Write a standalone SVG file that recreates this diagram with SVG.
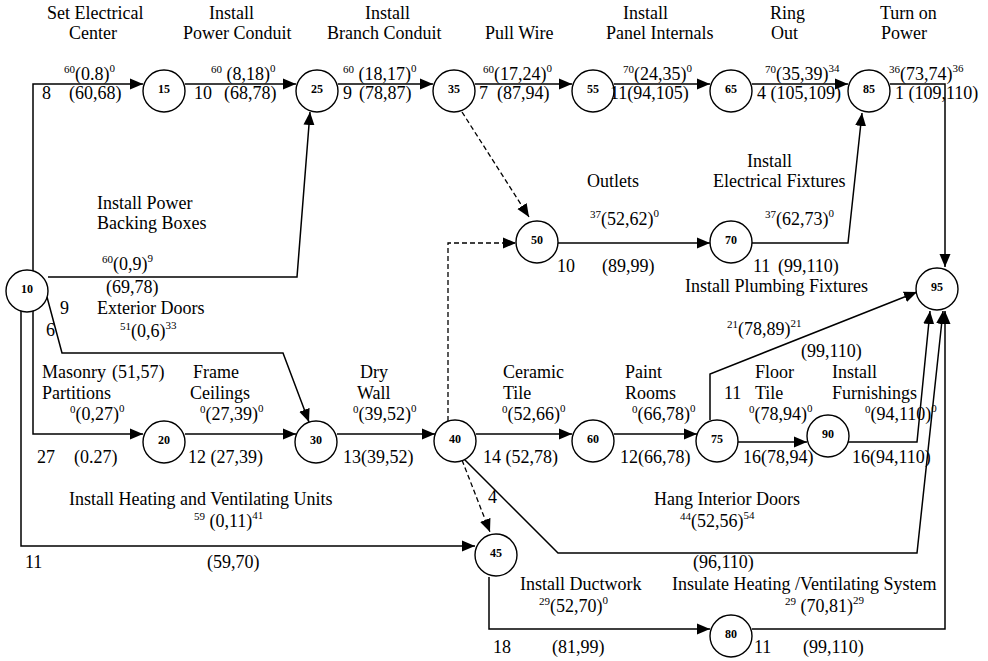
<svg xmlns="http://www.w3.org/2000/svg" width="988" height="661" viewBox="0 0 988 661">
<style>
.bg{fill:#fff}
.e{fill:none;stroke:#000;stroke-width:1.5}
.d{fill:none;stroke:#000;stroke-width:1.3;stroke-dasharray:5 3}
.nc{fill:#fff;stroke:#000;stroke-width:1.4}
.nt{font-family:'Liberation Serif','Times New Roman',serif;font-size:12px;font-weight:bold;text-anchor:middle;fill:#000}
.lb text{font-family:'Liberation Serif','Times New Roman',serif;font-size:18px;fill:#000}
.lb .s{font-size:11px}
</style>
<defs>
<marker id="ah" markerWidth="13" markerHeight="12" refX="13" refY="6" orient="auto" markerUnits="userSpaceOnUse"><path d="M0,0.5 L13,6 L0,11.5 z" fill="#000"/></marker>
</defs>
<rect class="bg" x="0" y="0" width="988" height="661"/>
<g id="connectors">
<path class="e" d="M33,271 V84 H143" marker-end="url(#ah)"/>
<path class="e" d="M185,84 H296" marker-end="url(#ah)"/>
<path class="e" d="M338,84 H433" marker-end="url(#ah)"/>
<path class="e" d="M475,84 H572" marker-end="url(#ah)"/>
<path class="e" d="M614,84 H710" marker-end="url(#ah)"/>
<path class="e" d="M752,84 H848" marker-end="url(#ah)"/>
<path class="e" d="M890,84 H945 V267" marker-end="url(#ah)"/>
<path class="e" d="M48,277 H297 L310,112" marker-end="url(#ah)"/>
<path class="e" d="M47,297 L62,353 H283 L309,422" marker-end="url(#ah)"/>
<path class="e" d="M33,311 V434 H143" marker-end="url(#ah)"/>
<path class="e" d="M21,311 V546 H475" marker-end="url(#ah)"/>
<path class="e" d="M185,434 H296" marker-end="url(#ah)"/>
<path class="e" d="M337,434 H435" marker-end="url(#ah)"/>
<path class="e" d="M476,434 H572" marker-end="url(#ah)"/>
<path class="e" d="M614,434 H697" marker-end="url(#ah)"/>
<path class="e" d="M738,442 H807" marker-end="url(#ah)"/>
<path class="e" d="M848,442 H917 L930,311" marker-end="url(#ah)"/>
<path class="e" d="M710,420 V374 L917,292" marker-end="url(#ah)"/>
<path class="e" d="M463,458 L558,553 H917 L943,311" marker-end="url(#ah)"/>
<path class="d" d="M462,460 L490,532" marker-end="url(#ah)"/>
<path class="d" d="M448,421 V243 H516" marker-end="url(#ah)"/>
<path class="d" d="M462,112 L529,217" marker-end="url(#ah)"/>
<path class="e" d="M558,243 H710" marker-end="url(#ah)"/>
<path class="e" d="M752,243 H848 L862,113" marker-end="url(#ah)"/>
<path class="e" d="M489,577 V629 H710" marker-end="url(#ah)"/>
<path class="e" d="M752,629 H945 V311" marker-end="url(#ah)"/>
</g>
<g id="n10"><circle class="nc" cx="27" cy="291" r="21"/><text class="nt" x="27" y="293">10</text></g>
<g id="n15"><circle class="nc" cx="164" cy="91" r="21"/><text class="nt" x="164" y="93">15</text></g>
<g id="n25"><circle class="nc" cx="317" cy="91" r="21"/><text class="nt" x="317" y="93">25</text></g>
<g id="n35"><circle class="nc" cx="454" cy="91" r="21"/><text class="nt" x="454" y="93">35</text></g>
<g id="n55"><circle class="nc" cx="593" cy="91" r="21"/><text class="nt" x="593" y="93">55</text></g>
<g id="n65"><circle class="nc" cx="731" cy="91" r="21"/><text class="nt" x="731" y="93">65</text></g>
<g id="n85"><circle class="nc" cx="869" cy="91" r="21"/><text class="nt" x="869" y="93">85</text></g>
<g id="n50"><circle class="nc" cx="537" cy="242" r="21"/><text class="nt" x="537" y="244">50</text></g>
<g id="n70"><circle class="nc" cx="731" cy="242" r="21"/><text class="nt" x="731" y="244">70</text></g>
<g id="n95"><circle class="nc" cx="937" cy="289" r="21"/><text class="nt" x="937" y="291">95</text></g>
<g id="n20"><circle class="nc" cx="164" cy="442" r="21"/><text class="nt" x="164" y="444">20</text></g>
<g id="n30"><circle class="nc" cx="316" cy="442" r="21"/><text class="nt" x="316" y="444">30</text></g>
<g id="n40"><circle class="nc" cx="455" cy="441" r="21"/><text class="nt" x="455" y="443">40</text></g>
<g id="n60"><circle class="nc" cx="593" cy="441" r="21"/><text class="nt" x="593" y="443">60</text></g>
<g id="n75"><circle class="nc" cx="717" cy="441" r="21"/><text class="nt" x="717" y="443">75</text></g>
<g id="n90"><circle class="nc" cx="828" cy="436" r="21"/><text class="nt" x="828" y="438">90</text></g>
<g id="n45"><circle class="nc" cx="496" cy="555" r="21"/><text class="nt" x="496" y="557">45</text></g>
<g id="n80"><circle class="nc" cx="731" cy="636" r="21"/><text class="nt" x="731" y="638">80</text></g>
<g id="labels" class="lb" font-family="'Liberation Serif', serif">
<text x="47" y="19">Set Electrical</text><text x="69" y="39">Center</text>
<text x="209" y="19">Install</text><text x="183" y="39">Power Conduit</text>
<text x="365" y="19">Install</text><text x="327" y="39">Branch Conduit</text>
<text x="485" y="39">Pull Wire</text>
<text x="623" y="19">Install</text><text x="606" y="39">Panel Internals</text>
<text x="770" y="19">Ring</text><text x="771" y="39">Out</text>
<text x="880" y="19">Turn on</text><text x="881" y="39">Power</text>

<text x="64" y="80"><tspan class="s" dy="-7">60</tspan><tspan dy="7">(0.8)</tspan><tspan class="s" dy="-8">0</tspan></text>
<text x="42" y="99">8</text><text x="69" y="99">(60,68)</text>
<text x="211" y="80"><tspan class="s" dy="-7">60</tspan><tspan dy="7"> (8,18)</tspan><tspan class="s" dy="-8">0</tspan></text>
<text x="194" y="99">10</text><text x="224" y="99">(68,78)</text>
<text x="343" y="80"><tspan class="s" dy="-7">60</tspan><tspan dy="7"> (18,17)</tspan><tspan class="s" dy="-8">0</tspan></text>
<text x="343" y="99">9</text><text x="359" y="99">(78,87)</text>
<text x="483" y="80"><tspan class="s" dy="-7">60</tspan><tspan dy="7">(17,24)</tspan><tspan class="s" dy="-8">0</tspan></text>
<text x="479" y="99">7</text><text x="497" y="99">(87,94)</text>
<text x="623" y="80"><tspan class="s" dy="-7">70</tspan><tspan dy="7">(24,35)</tspan><tspan class="s" dy="-8">0</tspan></text>
<text x="610" y="99">11(94,105)</text>
<text x="765" y="80"><tspan class="s" dy="-7">70</tspan><tspan dy="7">(35,39)</tspan><tspan class="s" dy="-8">34</tspan></text>
<text x="757" y="99">4 (105,109)</text>
<text x="889" y="80"><tspan class="s" dy="-7">36</tspan><tspan dy="7">(73,74)</tspan><tspan class="s" dy="-8">36</tspan></text>
<text x="895" y="99">1 (109,110)</text>

<text x="97" y="209">Install Power</text><text x="97" y="229">Backing Boxes</text>
<text x="102" y="270"><tspan class="s" dy="-7">60</tspan><tspan dy="7">(0,9)</tspan><tspan class="s" dy="-8">9</tspan></text>
<text x="106" y="293">(69,78)</text>
<text x="60" y="314">9</text><text x="97" y="314">Exterior Doors</text>
<text x="46" y="336">6</text>
<text x="120" y="337"><tspan class="s" dy="-7">51</tspan><tspan dy="7">(0,6)</tspan><tspan class="s" dy="-8">33</tspan></text>

<text x="587" y="187">Outlets</text>
<text x="747" y="167">Install</text><text x="713" y="187">Electrical Fixtures</text>
<text x="590" y="225"><tspan class="s" dy="-7">37</tspan><tspan dy="7">(52,62)</tspan><tspan class="s" dy="-8">0</tspan></text>
<text x="765" y="225"><tspan class="s" dy="-7">37</tspan><tspan dy="7">(62,73)</tspan><tspan class="s" dy="-8">0</tspan></text>
<text x="557" y="272">10</text><text x="602" y="272">(89,99)</text>
<text x="753" y="272">11</text><text x="778" y="272">(99,110)</text>
<text x="685" y="292">Install Plumbing Fixtures</text>
<text x="727" y="335"><tspan class="s" dy="-7">21</tspan><tspan dy="7">(78,89)</tspan><tspan class="s" dy="-8">21</tspan></text>
<text x="801" y="357">(99,110)</text>

<text x="42" y="378">Masonry</text><text x="112" y="378">(51,57)</text><text x="193" y="378">Frame</text>
<text x="42" y="399">Partitions</text><text x="190" y="399">Ceilings</text>
<text x="70" y="420"><tspan class="s" dy="-7">0</tspan><tspan dy="7">(0,27)</tspan><tspan class="s" dy="-8">0</tspan></text>
<text x="200" y="420"><tspan class="s" dy="-7">0</tspan><tspan dy="7">(27,39)</tspan><tspan class="s" dy="-8">0</tspan></text>
<text x="360" y="378">Dry</text><text x="357" y="399">Wall</text>
<text x="353" y="420"><tspan class="s" dy="-7">0</tspan><tspan dy="7">(39,52)</tspan><tspan class="s" dy="-8">0</tspan></text>
<text x="503" y="378">Ceramic</text><text x="503" y="399">Tile</text>
<text x="502" y="420"><tspan class="s" dy="-7">0</tspan><tspan dy="7">(52,66)</tspan><tspan class="s" dy="-8">0</tspan></text>
<text x="625" y="378">Paint</text><text x="625" y="399">Rooms</text>
<text x="632" y="420"><tspan class="s" dy="-7">0</tspan><tspan dy="7">(66,78)</tspan><tspan class="s" dy="-8">0</tspan></text>
<text x="724" y="399">11</text>
<text x="755" y="378">Floor</text><text x="755" y="399">Tile</text>
<text x="749" y="420"><tspan class="s" dy="-7">0</tspan><tspan dy="7">(78,94)</tspan><tspan class="s" dy="-8">0</tspan></text>
<text x="832" y="378">Install</text><text x="832" y="399">Furnishings</text>
<text x="865" y="420"><tspan class="s" dy="-7">0</tspan><tspan dy="7">(94,110)</tspan><tspan class="s" dy="-8">0</tspan></text>

<text x="37" y="463">27</text><text x="74" y="463">(0.27)</text>
<text x="188" y="463">12 (27,39)</text>
<text x="343" y="463">13(39,52)</text>
<text x="483" y="463">14 (52,78)</text>
<text x="620" y="463">12(66,78)</text>
<text x="743" y="463">16(78,94)</text>
<text x="852" y="463">16(94,110)</text>

<text x="69" y="505">Install Heating and Ventilating Units</text>
<text x="194" y="527"><tspan class="s" dy="-7">59</tspan><tspan dy="7"> (0,11)</tspan><tspan class="s" dy="-8">41</tspan></text>
<text x="488" y="503">4</text>
<text x="25" y="568">11</text><text x="207" y="568">(59,70)</text>
<text x="654" y="505">Hang Interior Doors</text>
<text x="680" y="527"><tspan class="s" dy="-7">44</tspan><tspan dy="7">(52,56)</tspan><tspan class="s" dy="-8">54</tspan></text>
<text x="693" y="568">(96,110)</text>
<text x="520" y="590">Install Ductwork</text>
<text x="539" y="612"><tspan class="s" dy="-7">29</tspan><tspan dy="7">(52,70)</tspan><tspan class="s" dy="-8">0</tspan></text>
<text x="672" y="590">Insulate Heating /Ventilating System</text>
<text x="785" y="612"><tspan class="s" dy="-7">29</tspan><tspan dy="7"> (70,81)</tspan><tspan class="s" dy="-8">29</tspan></text>
<text x="493" y="653">18</text><text x="552" y="653">(81,99)</text>
<text x="754" y="653">11</text><text x="803" y="653">(99,110)</text>
</g>
</svg>
